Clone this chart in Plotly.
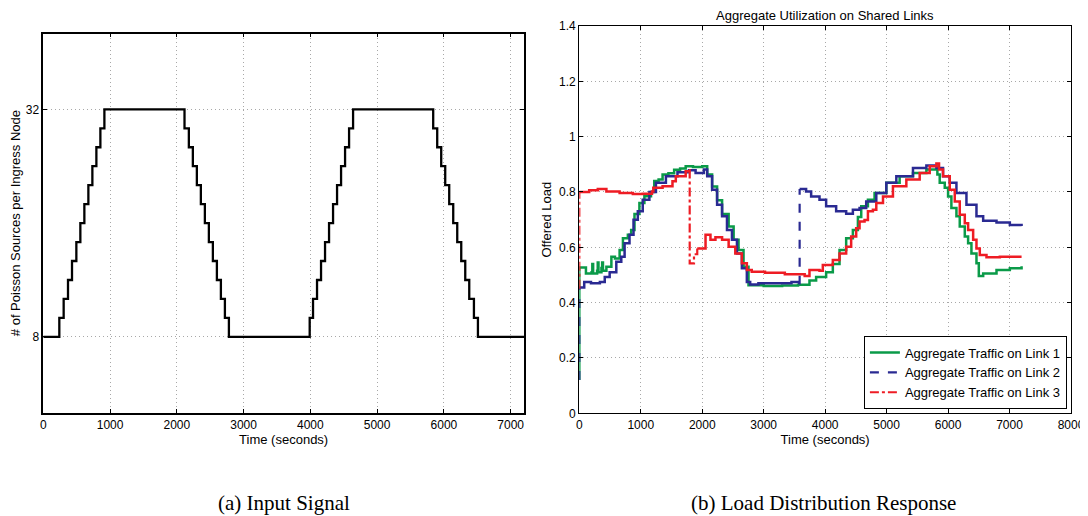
import plotly.graph_objects as go

# The page puts the figure 8px in from the top-left corner of the window.
PAGE_OFFSET = 8
W, H = 1088 - PAGE_OFFSET, 516 - PAGE_OFFSET

# ---------------- (a) Input signal ----------------
input_t = [0, 240, 305, 370, 430, 495, 555, 615, 675, 735, 795, 855, 915,
           2115, 2180, 2240, 2300, 2360, 2420, 2480, 2540, 2600, 2660, 2720, 2780,
           3990, 4040, 4100, 4160, 4220, 4280, 4340, 4400, 4460, 4520, 4580, 4640,
           5840, 5900, 5960, 6020, 6080, 6140, 6200, 6260, 6320, 6380, 6450, 6510,
           7200]
input_n = [8, 10, 12, 14, 16, 18, 20, 22, 24, 26, 28, 30, 32,
           30, 28, 26, 24, 22, 20, 18, 16, 14, 12, 10, 8,
           10, 12, 14, 16, 18, 20, 22, 24, 26, 28, 30, 32,
           30, 28, 26, 24, 22, 20, 18, 16, 14, 12, 10, 8,
           8]
left_xticks = [0, 1000, 2000, 3000, 4000, 5000, 6000, 7000]
left_yticks = [8, 32]

# ---------------- (b) Load distribution response ----------------
link1_t = [0, 0, 10, 108, 200, 212, 225, 290, 300, 312, 360, 372, 385, 441, 522, 580,
           656, 710, 790, 844, 898, 978, 1059, 1167, 1220, 1290, 1355, 1450, 1543, 1640,
           1731, 1850, 2000, 2081, 2161, 2242, 2323, 2430, 2511, 2591, 2672, 2753, 3000,
           3300, 3559, 3745, 3853, 4016, 4125, 4234, 4342, 4451, 4533, 4587, 4696, 4804,
           4995, 5212, 5429, 5647, 5810, 5826, 5864, 5946, 6000, 6054, 6136, 6190, 6272,
           6326, 6380, 6462, 6500, 6571, 6788, 7005, 7196]
link1_v = [0.12, 0.527, 0.527, 0.505, 0.51, 0.54, 0.505, 0.515, 0.545, 0.51, 0.525, 0.545,
           0.515, 0.53, 0.566, 0.56, 0.59, 0.633, 0.645, 0.663, 0.72, 0.76, 0.785, 0.80,
           0.84, 0.845, 0.863, 0.868, 0.88, 0.885, 0.893, 0.89, 0.893, 0.863, 0.82, 0.77,
           0.72, 0.675, 0.627, 0.59, 0.53, 0.463, 0.46, 0.462, 0.465, 0.48, 0.493, 0.51,
           0.54, 0.59, 0.633, 0.663, 0.71, 0.748, 0.772, 0.796, 0.833, 0.857, 0.869, 0.881,
           0.881, 0.863, 0.833, 0.815, 0.784, 0.742, 0.712, 0.675, 0.639, 0.615, 0.578,
           0.542, 0.496, 0.505, 0.518, 0.524, 0.532]

link2_t = [0, 0, 80, 190, 335, 414, 494, 602, 683, 737, 817, 882, 952, 1032, 1140, 1247,
           1409, 1597, 1785, 1892, 2027, 2081, 2161, 2242, 2323, 2403, 2484, 2565, 2645,
           2726, 2780, 2914, 3452, 3559, 3585, 3690, 3772, 3908, 4016, 4179, 4342, 4451,
           4560, 4668, 4832, 4995, 5158, 5429, 5647, 5810, 5918, 6027, 6136, 6299, 6462,
           6571, 6788, 7005, 7196]
link2_v = [0.12, 0.455, 0.475, 0.47, 0.475, 0.493, 0.51, 0.548, 0.566, 0.615, 0.645, 0.70,
           0.73, 0.772, 0.80, 0.833, 0.857, 0.871, 0.879, 0.869, 0.881, 0.857, 0.808, 0.754,
           0.712, 0.663, 0.627, 0.578, 0.524, 0.475, 0.466, 0.47, 0.475, 0.47, 0.811, 0.802,
           0.784, 0.772, 0.748, 0.73, 0.721, 0.736, 0.742, 0.766, 0.796, 0.833, 0.857,
           0.887, 0.896, 0.887, 0.857, 0.833, 0.796, 0.754, 0.712, 0.696, 0.69, 0.681, 0.677]

link3_t = [0, 0, 161, 301, 441, 656, 871, 1032, 1183, 1204, 1355, 1516, 1570, 1731, 1785,
           1796, 1866, 1919, 2054, 2134, 2215, 2323, 2430, 2538, 2645, 2726, 2806, 3022,
           3344, 3559, 3667, 3745, 3908, 3962, 4071, 4125, 4234, 4342, 4423, 4505, 4560,
           4641, 4696, 4777, 4832, 4941, 5103, 5321, 5538, 5701, 5810, 5853, 5918, 6027,
           6109, 6190, 6272, 6326, 6408, 6462, 6516, 6625, 6842, 7196]
link3_v = [0.45, 0.80, 0.806, 0.811, 0.802, 0.796, 0.793, 0.794, 0.802, 0.815, 0.821, 0.839,
           0.857, 0.875, 0.879, 0.542, 0.575, 0.596, 0.645, 0.627, 0.636, 0.627, 0.602,
           0.578, 0.542, 0.518, 0.512, 0.508, 0.503, 0.503, 0.496, 0.518, 0.515, 0.536,
           0.536, 0.554, 0.578, 0.602, 0.639, 0.669, 0.693, 0.699, 0.73, 0.736, 0.76,
           0.784, 0.821, 0.845, 0.869, 0.893, 0.903, 0.881, 0.857, 0.808, 0.766, 0.718,
           0.687, 0.663, 0.627, 0.596, 0.572, 0.564, 0.566, 0.566]

series_names = ["Aggregate Traffic on Link 1", "Aggregate Traffic on Link 2",
                "Aggregate Traffic on Link 3"]
series_colors = ["#0a9a48", "#2a2a92", "#ee1c24"]
series_dash = ["solid", "dash", "dashdot"]
# index spans (inclusive) drawn with the series' broken line style (the jumps)
series_jumps = [[], [(0, 1), (33, 34)], [(0, 1), (14, 17)]]

right_xticks = [0, 1000, 2000, 3000, 4000, 5000, 6000, 7000, 8000]
right_yticks = [0, 0.2, 0.4, 0.6, 0.8, 1.0, 1.2, 1.4]
right_yticktext = ["0", "0.2", "0.4", "0.6", "0.8", "1", "1.2", "1.4"]

fig = go.Figure()

fig.add_trace(go.Scatter(x=input_t, y=input_n, mode="lines", line_shape="hv",
                         line=dict(color="black", width=2.3), showlegend=False,
                         xaxis="x", yaxis="y"))

all_t = [link1_t, link2_t, link3_t]
all_v = [link1_v, link2_v, link3_v]
for k in range(3):
    t, v = all_t[k], all_v[k]
    jumps = series_jumps[k]
    cuts = []
    start = 0
    for (a, b) in jumps:
        if a > start:
            cuts.append((start, a))
        start = b
    cuts.append((start, len(t) - 1))
    legend_done = False
    for (a, b) in jumps:
        fig.add_trace(go.Scatter(x=t[a:b + 1], y=v[a:b + 1], mode="lines", line_shape="hv",
                                 line=dict(color=series_colors[k], width=2.2, dash=series_dash[k]),
                                 name=series_names[k], legendgroup=series_names[k],
                                 showlegend=not legend_done, legendrank=k + 1,
                                 xaxis="x2", yaxis="y2"))
        legend_done = True
    for (a, b) in cuts:
        fig.add_trace(go.Scatter(x=t[a:b + 1], y=v[a:b + 1], mode="lines", line_shape="hv",
                                 line=dict(color=series_colors[k], width=2.5, dash="solid"),
                                 name=series_names[k], legendgroup=series_names[k],
                                 showlegend=not legend_done, legendrank=k + 1,
                                 xaxis="x2", yaxis="y2"))
        legend_done = True

FONT = "Liberation Sans, Arial, sans-serif"
SERIF = "Liberation Serif, Times New Roman, serif"
axis_common = dict(showline=True, linecolor="black", mirror="ticks",
                   ticks="inside", ticklen=4, tickcolor="black", showgrid=True,
                   gridcolor="#a8a8a8", griddash="1px,3px", gridwidth=1, zeroline=False,
                   automargin=False,
                   tickfont=dict(family=FONT, size=12, color="black"))

def px_x(p):
    return (p - PAGE_OFFSET) / W

def px_y(p):
    return 1 - (p - PAGE_OFFSET) / H

fig.update_layout(
    width=W, height=H,
    margin=dict(l=0, r=0, t=0, b=0, autoexpand=False),
    paper_bgcolor="white", plot_bgcolor="white",
    font=dict(family=FONT, size=12, color="black"),
    xaxis=dict(axis_common, linewidth=1.6, domain=[px_x(43.3), px_x(524)], range=[0, 7200],
               tickvals=left_xticks, anchor="y",
               title=dict(text="Time (seconds)", font=dict(size=13), standoff=2)),
    yaxis=dict(axis_common, linewidth=1.6, domain=[px_y(412.7), px_y(33.5)], range=[0, 40],
               tickvals=left_yticks, anchor="x",
               title=dict(text="# of Poisson Sources per Ingress Node", font=dict(size=13), standoff=6)),
    xaxis2=dict(axis_common, linewidth=1.2, domain=[px_x(579.3), px_x(1071)], range=[0, 8000],
                tickvals=right_xticks, anchor="y2",
                title=dict(text="Time (seconds)", font=dict(size=13), standoff=2)),
    yaxis2=dict(axis_common, linewidth=1.2, domain=[px_y(413.3), px_y(26)], range=[0, 1.4],
                tickvals=right_yticks, ticktext=right_yticktext, anchor="x2",
                title=dict(text="Offered Load", font=dict(size=13), standoff=4)),
    legend=dict(x=px_x(1066.7), xanchor="right", y=px_y(409.3), yanchor="bottom",
                bgcolor="white", bordercolor="black", borderwidth=1.2,
                font=dict(family=FONT, size=13, color="black"),
                tracegroupgap=0, itemwidth=30),
    annotations=[
        dict(text="Aggregate Utilization on Shared Links", x=px_x(825), y=px_y(16),
             xref="paper", yref="paper", xanchor="center", yanchor="middle", showarrow=False,
             font=dict(family=FONT, size=13, color="black")),
        dict(text="(a) Input Signal", x=px_x(284), y=px_y(503), xref="paper", yref="paper",
             xanchor="center", yanchor="middle",
             showarrow=False, font=dict(family=SERIF, size=21, color="black")),
        dict(text="(b) Load Distribution Response", x=px_x(823), y=px_y(503), xref="paper", yref="paper",
             xanchor="center", yanchor="middle",
             showarrow=False, font=dict(family=SERIF, size=21, color="black")),
    ],
)

fig.write_html("out.html")
